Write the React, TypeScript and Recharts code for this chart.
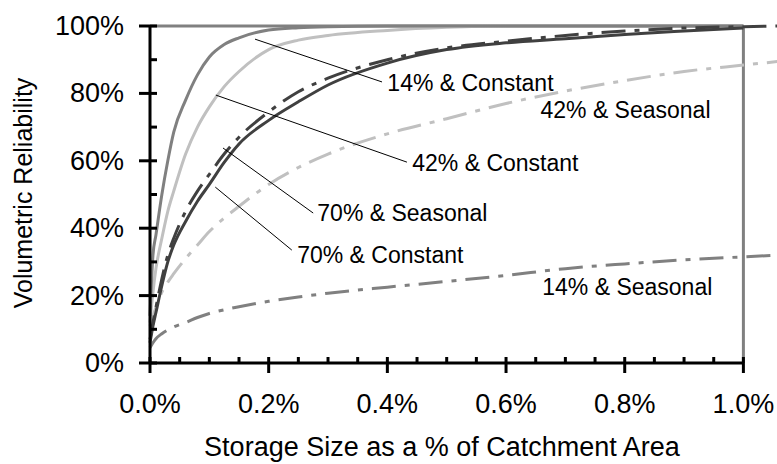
import { LineChart, Line, XAxis, YAxis, ReferenceLine, ReferenceDot } from 'recharts'

// storage size as % of catchment area
const storage = [0, 0.005, 0.01, 0.02, 0.03, 0.04, 0.06, 0.08, 0.1, 0.125, 0.15, 0.2, 0.25, 0.3, 0.4, 0.5, 0.6, 0.7, 0.8, 0.9, 1.0, 1.06]

// volumetric reliability (%) per scenario
const const14 = [14, 32, 38, 50, 60, 68.5, 78, 85.5, 90.8, 94.5, 96.5, 98.8, 99.5, 99.8, 100, 100, 100, 100, 100, 100, 100, null]
const const42 = [12, 21, 28, 37, 45, 51, 62, 70, 76, 82, 86.5, 93, 95.8, 97.2, 98.7, 99.6, 100, 100, 100, 100, 100, null]
const const70 = [6, 11, 15, 23, 30, 35, 42, 48, 53, 59.5, 65, 72, 77.5, 82.5, 89, 93, 95, 96.2, 97.5, 98.5, 99.4, null]
const seas70 = [7, 12, 16.5, 25, 32, 37, 45, 51, 56, 62, 67, 74.5, 80.5, 84.5, 90, 93.5, 95.5, 97.2, 98.5, 99.4, 99.8, 100]
const seas42 = [11, 14, 16.5, 21, 24, 26.5, 31, 35, 39, 43, 46.5, 53, 58, 62, 68, 72.5, 77, 80.7, 83.8, 86.5, 88.4, 89.5]
const seas14 = [4.5, 6, 7.2, 8.7, 9.8, 10.7, 12, 13.5, 14.7, 15.8, 16.7, 18.3, 19.6, 20.7, 22.5, 24.2, 26, 28, 29.4, 30.6, 31.5, 32]

const xTicks = [0, 0.05, 0.1, 0.15, 0.2, 0.25, 0.3, 0.35, 0.4, 0.45, 0.5, 0.55, 0.6, 0.65, 0.7, 0.75, 0.8, 0.85, 0.9, 0.95, 1.0]
const yTicks = [0, 10, 20, 30, 40, 50, 60, 70, 80, 90, 100]

const data = storage.map((x, i) => ({
  x,
  const14: const14[i],
  const42: const42[i],
  const70: const70[i],
  seas70: seas70[i],
  seas42: seas42[i],
  seas14: seas14[i],
}))

const FONT = '"Liberation Sans", Arial, sans-serif'
const DASH = '24 9 5 9'

// callouts: leader line from curve to label, label anchored at its left/middle
const callouts = [
  { text: '14% & Constant', from: { x: 0.177, y: 96.1 }, to: { x: 0.391, y: 83.4 }, at: { x: 0.4, y: 83.1 } },
  { text: '42% & Constant', from: { x: 0.111, y: 79.5 }, to: { x: 0.433, y: 59.6 }, at: { x: 0.442, y: 59.3 } },
  { text: '70% & Seasonal', from: { x: 0.123, y: 63.8 }, to: { x: 0.275, y: 44.5 }, at: { x: 0.282, y: 44.5 } },
  { text: '70% & Constant', from: { x: 0.11, y: 52.2 }, to: { x: 0.239, y: 33.5 }, at: { x: 0.248, y: 32.0 } },
  { text: '42% & Seasonal', at: { x: 0.658, y: 75.1 } },
  { text: '14% & Seasonal', at: { x: 0.661, y: 22.6 } },
]

const isMajor = (v: number, step: number) => Math.abs(v / step - Math.round(v / step)) < 1e-6

function XTick({ x, y, payload }: any) {
  const v = payload.value
  const major = isMajor(v, 0.2)
  return (
    <g>
      <line x1={x} x2={x} y1={y - 6} y2={major ? y + 10 : y} stroke="#000" strokeWidth={3} />
      {major && (
        <text x={x} y={y + 50} textAnchor="middle" fontSize={27} fontFamily={FONT} fill="#000">
          {v.toFixed(1)}%
        </text>
      )}
    </g>
  )
}

function YTick({ x, y, payload }: any) {
  const v = payload.value
  const major = isMajor(v, 20)
  return (
    <g>
      <line x1={major ? x - 11 : x} x2={x + 7} y1={y} y2={y} stroke="#000" strokeWidth={3} />
      {major && (
        <text x={x - 26} y={y + 9} textAnchor="end" fontSize={27} fontFamily={FONT} fill="#000">
          {v}%
        </text>
      )}
    </g>
  )
}

export default function App() {
  return (
    <div style={{ position: 'fixed', left: 0, top: 0, width: 777, height: 464, background: '#fff', overflow: 'hidden' }}>
      <LineChart width={779} height={464} data={data} margin={{ top: 26, right: 0, bottom: 0, left: 0 }}>
        <XAxis
          dataKey="x"
          type="number"
          domain={[0, 1.06]}
          ticks={xTicks}
          interval={0}
          axisLine={false}
          tickLine={false}
          tickSize={0}
          tickMargin={0}
          height={101}
          tick={(p: any) => <XTick {...p} />}
        />
        <YAxis
          type="number"
          domain={[0, 100]}
          ticks={yTicks}
          interval={0}
          width={150}
          axisLine={{ stroke: '#000', strokeWidth: 3 }}
          tickLine={false}
          tickSize={0}
          tickMargin={0}
          tick={(p: any) => <YTick {...p} />}
        />

        {/* grey plot border, top and right */}
        <ReferenceLine segment={[{ x: 0, y: 100 }, { x: 1, y: 100 }]} stroke="#808080" strokeWidth={3} />
        <ReferenceLine segment={[{ x: 1, y: 0 }, { x: 1, y: 100 }]} stroke="#808080" strokeWidth={3} />

        <Line dataKey="seas14" type="monotone" stroke="#808080" strokeWidth={3} strokeDasharray={DASH} dot={false} isAnimationActive={false} />
        <Line dataKey="seas42" type="monotone" stroke="#c0c0c0" strokeWidth={3} strokeDasharray={DASH} dot={false} isAnimationActive={false} />
        <Line dataKey="const42" type="monotone" stroke="#c0c0c0" strokeWidth={3} dot={false} isAnimationActive={false} />
        <Line dataKey="const14" type="monotone" stroke="#808080" strokeWidth={3} dot={false} isAnimationActive={false} />
        <Line dataKey="seas70" type="monotone" stroke="#404040" strokeWidth={3} strokeDasharray={DASH} dot={false} isAnimationActive={false} />
        <Line dataKey="const70" type="monotone" stroke="#404040" strokeWidth={3} dot={false} isAnimationActive={false} />

        {/* x axis line stops at 1.0% */}
        <ReferenceLine segment={[{ x: 0, y: 0 }, { x: 1, y: 0 }]} stroke="#000" strokeWidth={3} />

        {callouts.map((c, i) =>
          c.from ? (
            <ReferenceLine key={'l' + i} segment={[c.from, c.to]} stroke="#000" strokeWidth={1} />
          ) : null
        )}
        {callouts.map((c, i) => (
          <ReferenceDot
            key={'t' + i}
            x={c.at.x}
            y={c.at.y}
            r={0}
            shape={(p: any) => (
              <text x={p.cx} y={p.cy} dominantBaseline="central" fontSize={23} fontFamily={FONT} fill="#000">
                {c.text}
              </text>
            )}
          />
        ))}
      </LineChart>

      <svg width={777} height={464} style={{ position: 'absolute', left: 0, top: 0, pointerEvents: 'none' }}>
        <text x={442} y={456} textAnchor="middle" fontSize={27} fontFamily={FONT} fill="#000">
          Storage Size as a % of Catchment Area
        </text>
        <text transform="translate(32,193) rotate(-90)" textAnchor="middle" fontSize={25} fontFamily={FONT} fill="#000">
          Volumetric Reliability
        </text>
      </svg>
    </div>
  )
}
